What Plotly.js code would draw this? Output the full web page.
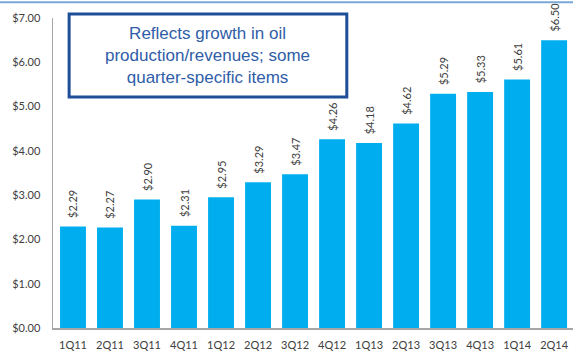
<!DOCTYPE html>
<html>
<head>
<meta charset="utf-8">
<script src="https://cdn.plot.ly/plotly-3.0.1.min.js"></script>
<style>html,body{margin:0;padding:0;background:#fff;}#chart{width:573px;height:356px;}</style>
</head>
<body>
<div id="chart"></div>
<script>
const quarters = ["1Q11","2Q11","3Q11","4Q11","1Q12","2Q12","3Q12","4Q12","1Q13","2Q13","3Q13","4Q13","1Q14","2Q14"];
const values = [2.29,2.27,2.90,2.31,2.95,3.29,3.47,4.26,4.18,4.62,5.29,5.33,5.61,6.50];
const yTickVals = [0,1,2,3,4,5,6,7];
const yTickText = ["$0.00","$1.00","$2.00","$3.00","$4.00","$5.00","$6.00","$7.00"];
const boxText = "Reflects growth in oil<br>production/revenues; some<br>quarter-specific items";

const labels = values.map(v => "$" + v.toFixed(2));

const trace = {
  type: "bar",
  x: quarters,
  y: values,
  text: labels,
  texttemplate: "\u00a0\u00a0%{text}",
  textposition: "outside",
  textangle: -90,
  constraintext: "none",
  cliponaxis: false,
  outsidetextfont: {family: "Lato, 'Open Sans', sans-serif", size: 11, color: "#404040"},
  marker: {color: "#00AEEF", line: {width: 0}},
  hoverinfo: "none"
};

const layout = {
  width: 573, height: 356,
  margin: {l: 53, r: 0, t: 18, b: 28, pad: 0},
  paper_bgcolor: "#ffffff",
  plot_bgcolor: "#ffffff",
  showlegend: false,
  bargap: 0.3,
  xaxis: {
    type: "category",
    range: [-0.54, 13.51],
    showgrid: false,
    showline: true, linecolor: "#a6a6a6", linewidth: 1.5,
    ticks: "outside", ticklen: 6, tickcolor: "rgba(0,0,0,0)",
    tickfont: {family: "Lato, 'Open Sans', sans-serif", size: 11, color: "#404040"},
    zeroline: false, fixedrange: true
  },
  yaxis: {
    range: [0, 7],
    tickvals: yTickVals,
    ticktext: yTickText,
    showgrid: false,
    showline: true, linecolor: "#a6a6a6", linewidth: 1.5,
    ticks: "outside", ticklen: 9, tickcolor: "rgba(0,0,0,0)",
    tickfont: {family: "Lato, 'Open Sans', sans-serif", size: 11, color: "#404040"},
    zeroline: false, fixedrange: true
  },
  shapes: [
    {type: "line", xref: "paper", yref: "paper", x0: -0.11, x1: 1.0, y0: 1.051, y1: 1.051,
     line: {color: "#7aa7d6", width: 2}},
    {type: "rect", xref: "paper", yref: "paper", x0: 0.031, x1: 0.565, y0: 0.745, y1: 1.013,
     line: {color: "#1F4E99", width: 3}, fillcolor: "#ffffff"}
  ],
  annotations: [
    {xref: "paper", yref: "paper", x: 0.298, y: 0.879, xanchor: "center", yanchor: "middle",
     text: boxText, showarrow: false, align: "center",
     font: {family: "'Liberation Sans', Arial, sans-serif", size: 17, color: "#2F5DA8"}}
  ]
};

Plotly.newPlot("chart", [trace], layout, {displayModeBar: false, staticPlot: true});
</script>
</body>
</html>
